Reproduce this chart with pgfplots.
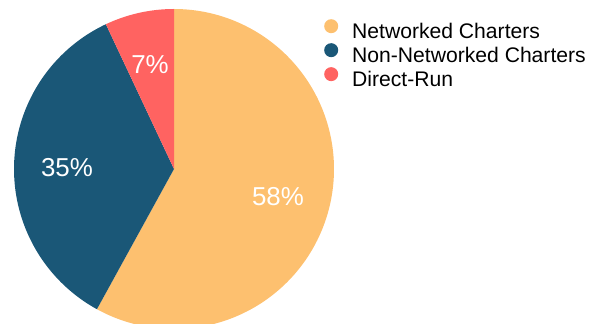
\documentclass[border=0pt]{standalone}
\usepackage{pgfplots}
\pgfplotsset{compat=1.18}
\usepackage{fontspec}
\setmainfont{Liberation Sans}
\definecolor{netc}{HTML}{FDC06F}
\definecolor{nonc}{HTML}{1A5777}
\definecolor{dirc}{HTML}{FF6361}
% shares in percent
\def\pA{58}\def\pB{35}\def\pC{7}
\pgfmathsetmacro{\aA}{90-3.6*\pA}
\pgfmathsetmacro{\aB}{\aA-3.6*\pB}
\pgfmathsetmacro{\aC}{\aB-3.6*\pC}
\begin{document}
\begin{tikzpicture}
\begin{axis}[
  width=602bp, height=324bp, scale only axis,
  xmin=0, xmax=602, ymin=0, ymax=324,
  hide axis,
  legend style={at={(axis cs:324,305)}, anchor=north west, draw=none, fill=none,
    font=\fontsize{21.2}{25}\selectfont, row sep=1.6bp, inner sep=0pt,
    cells={anchor=west},
    /tikz/every odd column/.append style={column sep=12bp}},
  legend cell align=left,
  legend image code/.code={\fill[#1] (0,0) circle (7bp);},
]
\addplot[fill=netc, draw=none, domain=\aA:90, samples=200, variable=\t]
  ({174+160*cos(t)},{155+160*sin(t)}) -- (axis cs:174,155) -- cycle;
\addlegendentry{Networked Charters}
\addplot[fill=nonc, draw=none, domain=\aB:\aA, samples=150, variable=\t]
  ({174+160*cos(t)},{155+160*sin(t)}) -- (axis cs:174,155) -- cycle;
\addlegendentry{Non-Networked Charters}
\addplot[fill=dirc, draw=none, domain=\aC:\aB, samples=40, variable=\t]
  ({174+160*cos(t)},{155+160*sin(t)}) -- (axis cs:174,155) -- cycle;
\addlegendentry{Direct-Run}
\node[white, font=\fontsize{26}{30}\selectfont] at (axis cs:278,127) {58\%};
\node[white, font=\fontsize{26}{30}\selectfont] at (axis cs:67,156) {35\%};
\node[white, font=\fontsize{26}{30}\selectfont] at (axis cs:150,259) {7\%};
\end{axis}
\pgfresetboundingbox
\path[use as bounding box] (current axis.south west) rectangle (current axis.north east);
\end{tikzpicture}
\end{document}
